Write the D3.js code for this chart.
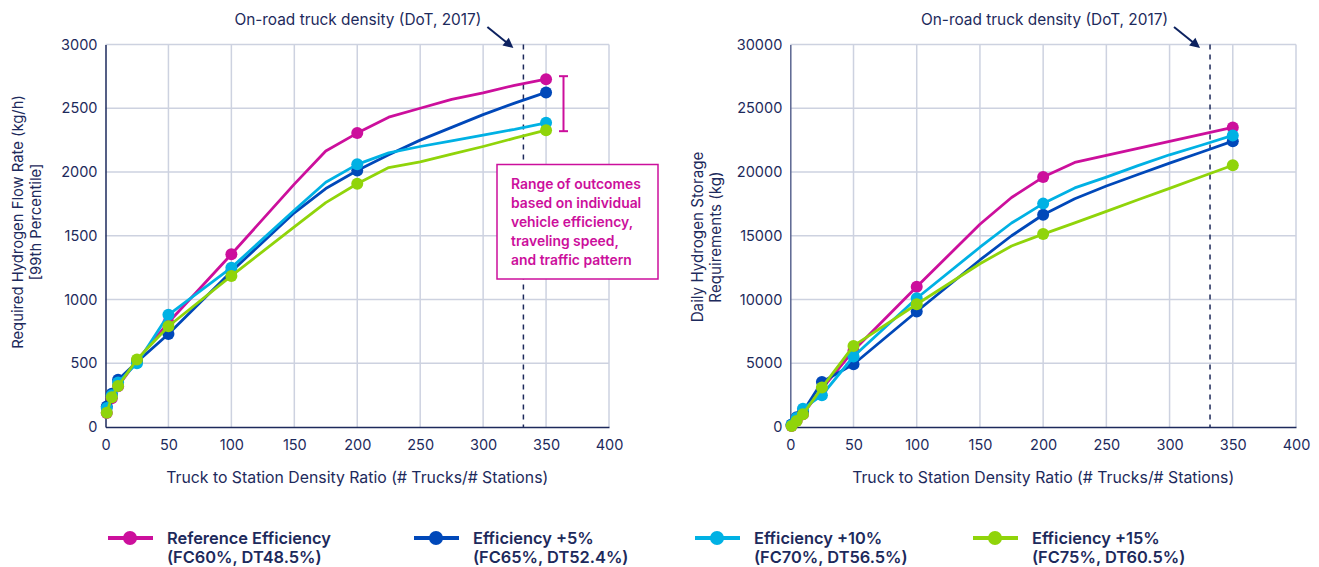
<!DOCTYPE html>
<html>
<head>
<meta charset="utf-8">
<script src="https://cdn.jsdelivr.net/npm/d3@7"></script>
<style>
  html, body { margin: 0; padding: 0; background: #ffffff; }
  svg { display: block; font-family: Inter, "Open Sans", sans-serif; }
</style>
</head>
<body>
<svg id="chart" width="1319" height="567"></svg>
<script>
// ---------- DATA ----------
const xValues = [1, 5, 10, 25, 50, 100, 150, 175, 200, 225, 250, 275, 300, 325, 350];
const markerX = [1, 5, 10, 25, 50, 100, 200, 350];

const seriesNames = ["Reference Efficiency", "Efficiency +5%", "Efficiency +10%", "Efficiency +15%"];
const seriesSubs = ["(FC60%, DT48.5%)", "(FC65%, DT52.4%)", "(FC70%, DT56.5%)", "(FC75%, DT60.5%)"];
const seriesColors = ["#cc0f9c", "#0048b9", "#00b1e4", "#90d40a"];

// Left: Required Hydrogen Flow Rate (kg/h)
const flowRef = [110, 225, 320, 520, 820, 1355, 1905, 2165, 2305, 2430, 2500, 2570, 2620, 2680, 2728];
const flowE5  = [160, 260, 370, 510, 730, 1220, 1680, 1870, 2012, 2135, 2250, 2350, 2450, 2540, 2624];
const flowE10 = [150, 250, 350, 500, 880, 1250, 1700, 1920, 2060, 2150, 2200, 2245, 2290, 2335, 2386];
const flowE15 = [112, 233, 322, 530, 790, 1185, 1570, 1760, 1908, 2035, 2080, 2140, 2200, 2265, 2328];

// Right: Daily Hydrogen Storage Requirements (kg)
const storRef = [80, 500, 1000, 3000, 6000, 11000, 15900, 18000, 19600, 20750, 21300, 21850, 22400, 22950, 23500];
const storE5  = [200, 760, 1200, 3530, 4920, 9060, 13100, 15000, 16650, 17900, 18900, 19800, 20700, 21550, 22420];
const storE10 = [150, 700, 1440, 2490, 5530, 10100, 14100, 16000, 17520, 18750, 19600, 20500, 21350, 22100, 22870];
const storE15 = [80, 470, 1000, 3090, 6360, 9630, 12800, 14200, 15130, 16010, 16910, 17820, 18720, 19630, 20530];

const xTicks = [0, 50, 100, 150, 200, 250, 300, 350, 400];
const flowTicks = [0, 500, 1000, 1500, 2000, 2500, 3000];
const storTicks = [0, 5000, 10000, 15000, 20000, 25000, 30000];

const truckDensity = 332;
const rangeTop = 2728, rangeBottom = 2328;

const annotationTitle = "On-road truck density (DoT, 2017)";
const rangeNote = ["Range of outcomes", "based on individual", "vehicle efficiency,", "traveling speed,", "and traffic pattern"];
const xTitle = "Truck to Station Density Ratio (# Trucks/# Stations)";
const leftYTitle = ["Required Hydrogen Flow Rate (kg/h)", "[99th Percentile]"];
const rightYTitle = ["Daily Hydrogen Storage", "Requirements (kg)"];

// ---------- DRAW ----------
const navy = "#1d2a5c";
const gridColor = "#cdd2e0";
const svg = d3.select("#chart");

function drawPanel(cfg) {
  const x = d3.scaleLinear().domain([0, 400]).range([cfg.x0, cfg.x1]);
  const y = d3.scaleLinear().domain([0, cfg.yMax]).range([427, 44.5]);
  const g = svg.append("g");

  // grid
  g.append("g").selectAll("line").data(xTicks.filter(d => d > 0)).join("line")
    .attr("x1", d => x(d)).attr("x2", d => x(d)).attr("y1", y(cfg.yMax)).attr("y2", y(0))
    .attr("stroke", gridColor).attr("stroke-width", 1.5);
  g.append("g").selectAll("line").data(cfg.yTicks.filter(d => d > 0)).join("line")
    .attr("x1", x(0)).attr("x2", x(400)).attr("y1", d => y(d)).attr("y2", d => y(d))
    .attr("stroke", gridColor).attr("stroke-width", 1.5);

  // axes via d3
  const xAxis = g.append("g").attr("transform", `translate(0,${y(0)})`)
    .call(d3.axisBottom(x).tickValues(xTicks).tickFormat(d3.format("d")).tickSize(0).tickPadding(13));
  xAxis.select(".domain").attr("stroke", navy).attr("stroke-width", 1.5);
  xAxis.selectAll("text").attr("fill", navy).style("font-size", "14.5px").style("font-family", "Inter");

  const yAxis = g.append("g").attr("transform", `translate(${x(0)},0)`)
    .call(d3.axisLeft(y).tickValues(cfg.yTicks).tickFormat(d3.format("d")).tickSize(0).tickPadding(8));
  yAxis.select(".domain").attr("stroke", cfg.yAxisColor).attr("stroke-width", 1.5);
  yAxis.selectAll("text").attr("fill", navy).style("font-size", "14.5px").style("font-family", "Inter");

  // dashed truck density line
  g.append("line")
    .attr("x1", x(truckDensity)).attr("x2", x(truckDensity))
    .attr("y1", y(cfg.yMax)).attr("y2", y(0))
    .attr("stroke", navy).attr("stroke-width", 1.5).attr("stroke-dasharray", "5,5");

  // annotation text + arrow
  g.append("text").attr("x", x(truckDensity) - 42).attr("y", 25)
    .attr("text-anchor", "end").attr("fill", navy).style("font-size", "15.4px")
    .text(annotationTitle);
  const ax0 = x(truckDensity) - 36, ay0 = 27, ax1 = x(truckDensity) - 10, ay1 = 48;
  g.append("line").attr("x1", ax0).attr("y1", ay0).attr("x2", ax1 - 4).attr("y2", ay1 - 3.2)
    .attr("stroke", "#0d2260").attr("stroke-width", 2);
  const ang = Math.atan2(ay1 - ay0, ax1 - ax0);
  const hl = 10, hw = 5;
  const bx = ax1 - hl * Math.cos(ang), by = ay1 - hl * Math.sin(ang);
  g.append("path")
    .attr("d", `M${ax1},${ay1} L${bx + hw * Math.sin(ang)},${by - hw * Math.cos(ang)} L${bx - hw * Math.sin(ang)},${by + hw * Math.cos(ang)} Z`)
    .attr("fill", "#0d2260");

  // series
  const line = d3.line().x(d => x(d[0])).y(d => y(d[1]));
  cfg.series.forEach((vals, i) => {
    const pts = xValues.map((xv, j) => [xv, vals[j]]);
    g.append("path").datum(pts).attr("d", line).attr("fill", "none")
      .attr("stroke", seriesColors[i]).attr("stroke-width", 2.8).attr("stroke-linejoin", "round");
    g.append("g").selectAll("circle").data(pts.filter(p => markerX.includes(p[0]))).join("circle")
      .attr("cx", d => x(d[0])).attr("cy", d => y(d[1])).attr("r", 6)
      .attr("fill", seriesColors[i]);
  });

  // y title
  const ty = g.append("text").attr("transform", `translate(${cfg.titleX},${cfg.titleY}) rotate(-90)`)
    .attr("text-anchor", "middle").attr("fill", navy).style("font-size", cfg.titleSize);
  cfg.yTitle.forEach((t, k) => ty.append("tspan").attr("x", 0).attr("dy", k === 0 ? 0 : 18).text(t));

  // x title
  g.append("text").attr("x", (x(0) + x(400)) / 2).attr("y", 483)
    .attr("text-anchor", "middle").attr("fill", navy).style("font-size", "15.8px").text(xTitle);

  return { x, y, g };
}

const left = drawPanel({
  x0: 105.5, x1: 609, yMax: 3000, yTicks: flowTicks, series: [flowRef, flowE5, flowE10, flowE15],
  yAxisColor: navy, yTitle: leftYTitle, titleX: 23, titleY: 222, titleSize: "14.8px"
});
const right = drawPanel({
  x0: 790.3, x1: 1296, yMax: 30000, yTicks: storTicks, series: [storRef, storE5, storE10, storE15],
  yAxisColor: "#5b6590", yTitle: rightYTitle, titleX: 703, titleY: 237, titleSize: "15.2px"
});

// range bracket on left panel
{
  const bxp = 563.5;
  const yT = left.y(rangeTop) - 3, yB = left.y(rangeBottom) + 1;
  const br = left.g.append("g").attr("stroke", "#cc0f9c").attr("stroke-width", 2);
  br.append("line").attr("x1", bxp).attr("x2", bxp).attr("y1", yT).attr("y2", yB);
  br.append("line").attr("x1", bxp - 4.5).attr("x2", bxp + 4.5).attr("y1", yT).attr("y2", yT);
  br.append("line").attr("x1", bxp - 4.5).attr("x2", bxp + 4.5).attr("y1", yB).attr("y2", yB);

  left.g.append("rect").attr("x", 497).attr("y", 164.5).attr("width", 161).attr("height", 114.5)
    .attr("fill", "#ffffff").attr("stroke", "#cc0f9c").attr("stroke-width", 1.5);
  left.g.append("g").selectAll("text").data(rangeNote).join("text")
    .attr("x", 511).attr("y", (d, i) => 189 + i * 19)
    .attr("fill", "#cc0f9c").style("font-size", "13.9px").style("font-weight", 600).text(d => d);
}

// legend
const legendX = [108, 414, 695, 973];
const lg = svg.append("g");
seriesNames.forEach((name, i) => {
  const lx = legendX[i];
  lg.append("line").attr("x1", lx).attr("x2", lx + 45).attr("y1", 538).attr("y2", 538)
    .attr("stroke", seriesColors[i]).attr("stroke-width", 4);
  lg.append("circle").attr("cx", lx + 22).attr("cy", 538).attr("r", 7).attr("fill", seriesColors[i]);
  lg.append("text").attr("x", lx + 59).attr("y", 544).attr("fill", navy)
    .style("font-size", "16.4px").style("font-weight", 600).text(name);
  lg.append("text").attr("x", lx + 59).attr("y", 563).attr("fill", navy)
    .style("font-size", "16.4px").style("font-weight", 600).text(seriesSubs[i]);
});
</script>
</body>
</html>
